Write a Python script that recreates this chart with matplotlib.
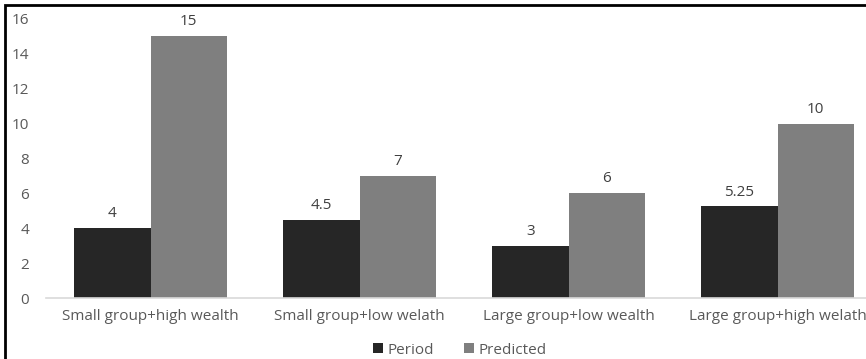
import numpy as np
import matplotlib.pyplot as plt
from matplotlib.patches import Rectangle

categories = ['Small group+high wealth', 'Small group+low welath',
              'Large group+low wealth', 'Large group+high welath']
period = [4, 4.5, 3, 5.25]
predicted = [15, 7, 6, 10]
period_labels = ['4', '4.5', '3', '5.25']
predicted_labels = ['15', '7', '6', '10']

plt.rcParams['font.family'] = ['Open Sans', 'DejaVu Sans']
text_color = '#595959'

fig = plt.figure(figsize=(8.66, 3.59), dpi=100)
ax = fig.add_axes([46 / 866, 61 / 359, 836 / 866, 279 / 359])

x = np.arange(len(categories))
w = 0.364
b1 = ax.bar(x - w / 2, period, w, color='#262626', label='Period')
b2 = ax.bar(x + w / 2, predicted, w, color='#7f7f7f', label='Predicted')

for rects, labels in ((b1, period_labels), (b2, predicted_labels)):
    for r, lab in zip(rects, labels):
        ax.annotate(lab, (r.get_x() + r.get_width() / 2, r.get_height()),
                    xytext=(0, 5), textcoords='offset points',
                    ha='center', va='bottom', fontsize=11, color='#404040')

ax.set_xlim(-0.5, 3.5)
ax.set_ylim(0, 16)
ax.set_yticks(range(0, 17, 2))
ax.set_xticks(x)
ax.set_xticklabels(categories)
ax.tick_params(axis='both', length=0, labelsize=11, colors=text_color)
ax.tick_params(axis='y', pad=12)
ax.tick_params(axis='x', pad=8)
for s in ['top', 'right', 'left']:
    ax.spines[s].set_visible(False)
ax.spines['bottom'].set_color('#d9d9d9')
ax.spines['bottom'].set_linewidth(1.2)

fig.legend(handles=[b1, b2], loc='center', bbox_to_anchor=(460 / 866, 9 / 359),
           ncol=2, frameon=False, fontsize=11, handlelength=0.65, handleheight=0.65,
           handletextpad=0.3, columnspacing=2.0, labelcolor=text_color)

# outer frame (picture is cropped on the right and bottom)
fig.patches.append(Rectangle((5 / 866, -0.1), 1.2, 1.1 - 5 / 359,
                             transform=fig.transFigure, fill=False,
                             edgecolor='black', linewidth=2))

fig.savefig('out.png', dpi=100)
